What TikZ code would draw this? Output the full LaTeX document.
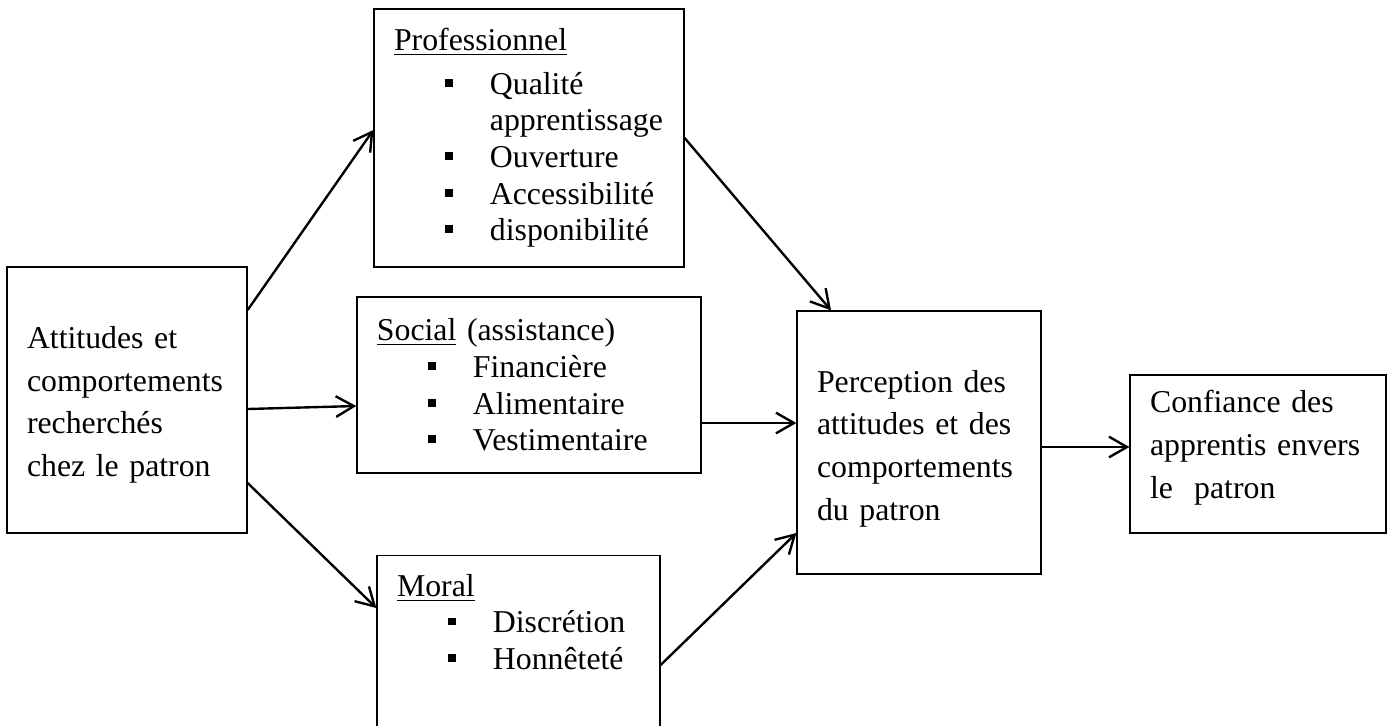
\documentclass[tikz,border=0pt]{standalone}
\usepackage{fontspec}
\setmainfont{Liberation Serif}
\usepackage{tikz}
\usetikzlibrary{arrows.meta}
\newcommand{\px}{0.3775pt}
\tikzset{basic/.style={draw,line width=0.5pt,align=left,
                       inner xsep=7.55pt,inner ysep=0pt}}
\tikzset{para/.style={basic,font=\fontsize{12}{16.2}\selectfont,text height=8.5pt}}
\tikzset{liste/.style={basic,font=\fontsize{12}{13.85}\selectfont}}
\tikzset{fleche/.style={-{Straight Barb[length=6.8pt,width=7.8pt]},line width=0.9pt}}
\newcommand{\puce}[1]{\hspace*{19.4pt}\rule[2.8pt]{2.8pt}{3pt}\hspace*{14pt}#1}
\newcommand{\suite}[1]{\hspace*{36.2pt}#1}
\begin{document}
\begin{tikzpicture}[x=\px,y=-\px]
    \useasboundingbox (0,0) rectangle (1387,725);
    \clip (0,0) rectangle (1387,725);
    \node[para,text width=75.5pt,minimum height=100.4pt,text depth=47.7pt] (att) at (127,400)
        {Attitudes et\\comportements\\recherchés\\chez le patron};
    \node[liste,text width=101.9pt,minimum height=97.4pt] (pro) at (529,138)
        {\underline{Professionnel}\\[2.5pt]
         \puce{Qualité}\\
         \suite{apprentissage}\\
         \puce{Ouverture}\\
         \puce{Accessibilité}\\
         \puce{disponibilité}};
    \node[liste,text width=114.8pt,minimum height=66.4pt] (soc) at (529,385)
        {\underline{Social} (assistance)\\
         \puce{Financière}\\
         \puce{Alimentaire}\\
         \puce{Vestimentaire}};
    \node[liste,text width=91.7pt,anchor=north,inner ysep=6.8pt,
          text height=8.5pt,text depth=60pt] (mor) at (518.5,555)
        {\underline{Moral}\\
         \puce{Discrétion}\\
         \puce{Honnêteté}};
    \node[para,text width=77pt,minimum height=99.3pt,text depth=46.6pt] (per) at (919,442.5)
        {Perception des\\attitudes et des\\comportements\\du patron};
    \node[para,text width=81.5pt,minimum height=59.6pt,text depth=39.5pt] (conf) at (1258,454)
        {Confiance des\\apprentis envers\\le~~patron};
    % Arrows
    \draw[fleche] (att.east |- 0,310) -- (pro.west |- 0,130);
    \draw[fleche] (att.east |- 0,409) -- (soc.west |- 0,406);
    \draw[fleche] (att.east |- 0,483) -- (mor.west |- 0,608);
    \draw[fleche] (pro.east) -- (per.north -| 831,0);
    \draw[fleche] (soc.east |- 0,423) -- (per.west |- 0,423);
    \draw[fleche] (mor.east |- 0,665) -- (per.west |- 0,533);
    \draw[fleche] (per.east |- 0,447) -- (conf.west |- 0,447);
\end{tikzpicture}
\end{document}
